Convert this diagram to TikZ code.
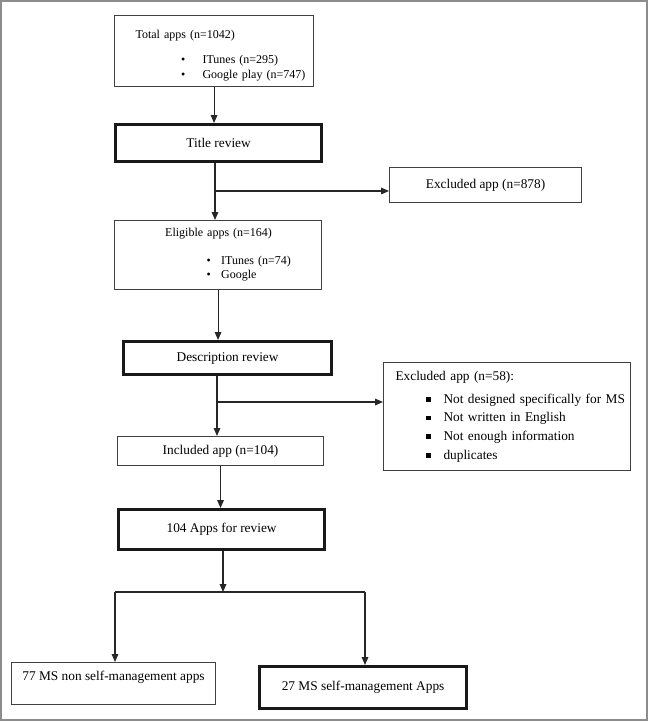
\documentclass[tikz,border=0pt]{standalone}
\usepackage{fontspec}
\setmainfont{Liberation Serif}
\usetikzlibrary
  {
    arrows.meta,   % filled arrow heads
    calc,
  }

% bullet lines inside the boxes
\newcommand{\dotitem}[3]{\hspace*{#1}\makebox[#2][l]{\textbullet}#3}
\newcommand{\sqitem}[3]{\hspace*{#1}\makebox[#2][l]{\rule[1pt]{3.5pt}{3.5pt}}#3}

\begin{document}
\begin{tikzpicture}
    [
      x=0.75pt, y=-0.75pt,
      thinbox/.style=
        {
          rectangle,
          draw=black!75,
          line width=0.8pt,
          anchor=north west,
          inner sep=0pt,
          font=\fontsize{10}{12}\selectfont,
        },
      thickbox/.style=
        {
          thinbox,
          draw=black!90,
          line width=2.4pt,
        },
      flow/.style={-{Triangle[length=6pt,width=5pt]}, line width=0.8pt, black!85},
      link/.style={line width=0.8pt, black!85},
    ]
    \useasboundingbox (0,0) rectangle (649,722);
    \draw[black!45, line width=0.8pt] (1,1) rectangle (647,720);

    \node[thinbox, minimum height=53.25pt, text width=149.25pt, align=left,
          font=\fontsize{9}{11.25}\selectfont] (total) at (114,15)
      {\rule{0pt}{12.5pt}\hspace*{15.75pt}Total apps (n=1042)\\[7.5pt]
       \dotitem{50pt}{16pt}{ITunes (n=295)}\\
       \dotitem{50pt}{16pt}{Google play (n=747)}};
    \node[thickbox, minimum width=154.5pt, minimum height=27.75pt] (title) at (114,123)
      {Title review};
    \node[thinbox, minimum width=144pt, minimum height=26.25pt] (excl1) at (389,167)
      {Excluded app (n=878)};
    \node[thinbox, minimum height=51.75pt, text width=155.25pt, align=left,
          font=\fontsize{9}{10.5}\selectfont] (eligible) at (114,220)
      {\hspace*{38pt}Eligible apps (n=164)\\[10.5pt]
       \dotitem{69pt}{11pt}{ITunes (n=74)}\\
       \dotitem{69pt}{11pt}{Google}};
    \node[thickbox, minimum width=156pt, minimum height=24.75pt] (desc) at (122,340)
      {Description review};
    \node[thinbox, minimum height=81pt, text width=185.25pt, align=left,
          font=\fontsize{10}{14}\selectfont] (excl2) at (383,362)
      {\hspace*{9pt}Excluded app (n=58):\\[3pt]
       \sqitem{32pt}{13pt}{Not designed specifically for MS}\\
       \sqitem{32pt}{13pt}{Not written in English}\\
       \sqitem{32pt}{13pt}{Not enough information}\\
       \sqitem{32pt}{13pt}{duplicates}};
    \node[thinbox, minimum width=154.5pt, minimum height=21.75pt] (included) at (117,436)
      {Included app (n=104)};
    \node[thickbox, minimum width=154.5pt, minimum height=30pt] (review) at (117,508)
      {104 Apps for review};
    \node[thinbox, minimum width=153pt, minimum height=31.5pt] (nonself) at (11,662)
      {\raisebox{5pt}[\height][\depth]{77 MS non self-management apps}};
    \node[thickbox, minimum width=155.25pt, minimum height=31.5pt] (self) at (258,665)
      {27 MS self-management Apps};

    \coordinate (cut1)  at (215,191);
    \coordinate (cut2)  at (217,402);
    \coordinate (fork)  at (223,592);
    \coordinate (forkL) at (115,592);
    \coordinate (forkR) at (365,592);

    \draw[flow] (total.south) -- (total.south |- title.north);
    \draw[link] (title.south -| cut1) -- (cut1);
    \draw[flow] (cut1) -- (cut1 |- eligible.north);
    \draw[flow] (cut1) -- (cut1 -| excl1.west);
    \draw[flow] (eligible.south) -- (eligible.south |- desc.north);
    \draw[link] (desc.south -| cut2) -- (cut2);
    \draw[flow] (cut2) -- (cut2 |- included.north);
    \draw[flow] (cut2) -- (cut2 -| excl2.west);
    \draw[flow] (included.south) -- (included.south |- review.north);
    \draw[flow] (review.south -| fork) -- (fork);
    \draw[link] (forkL) -- (forkR);
    \draw[flow] (forkL) -- (forkL |- nonself.north);
    \draw[flow] (forkR) -- (forkR |- self.north);
\end{tikzpicture}
\end{document}
